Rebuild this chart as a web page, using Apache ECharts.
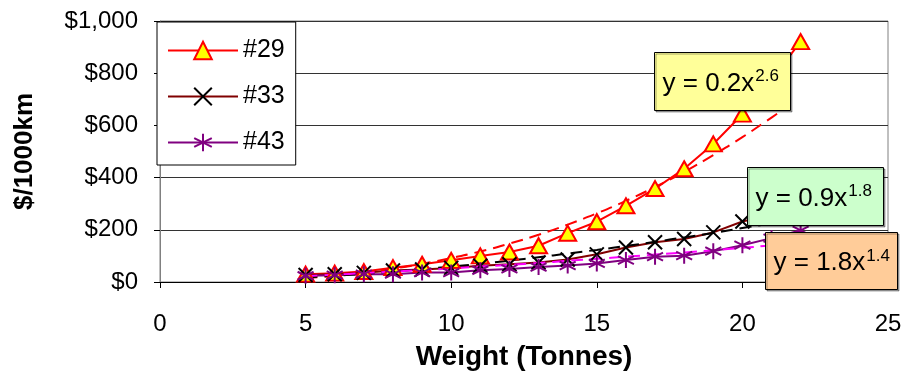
<!DOCTYPE html>
<html>
<head>
<meta charset="utf-8">
<script src="https://cdn.jsdelivr.net/npm/echarts@6/dist/echarts.min.js"></script>
<style>
html,body{margin:0;padding:0;background:#fff;}
#chart{width:912px;height:377px;}
</style>
</head>
<body>
<div id="chart"></div>
<script>
// ---- data ----
var weights = [5, 6, 7, 8, 9, 10, 11, 12, 13, 14, 15, 16, 17, 18, 19, 20, 21, 22];
var cost29 = [30, 34, 40, 55, 68, 83, 100, 115, 139, 187, 231, 292, 358, 434, 529, 643, 775, 921];
var cost33 = [27, 30, 35, 44, 48, 54, 62, 68, 75, 86, 106, 132, 152, 165, 190, 232, 258, 290];
var cost43 = [24, 26, 30, 30, 36, 36, 45, 50, 57, 63, 71, 84, 97, 101, 118, 141, 168, 198];

// trendlines (dashed), values
var trendX29 = [5, 6, 7, 8, 9, 10, 11, 12, 13, 14, 15, 16, 17, 18, 19, 20, 21, 21.5];
var trend29 = [15, 24, 36, 51, 70, 92, 117, 147, 181, 220, 263, 311, 364, 422, 486, 555, 630, 668];
var trendX = [5, 6, 7, 8, 9, 10, 11, 12, 13, 14, 15, 16, 17, 18, 19, 20, 21, 22];
var trend33 = [17, 24, 31, 40, 49, 59, 70, 82, 95, 109, 123, 138, 154, 171, 188, 207, 225, 245];
var trend43 = [22, 28, 34, 40, 46, 52, 59, 66, 73, 81, 89, 97, 105, 113, 122, 131, 140, 149];

var seriesNames = ['#29', '#33', '#43'];
var equations = [['y = 0.2x', '2.6'], ['y = 0.9x', '1.8'], ['y = 1.8x', '1.4']];

var xTicks = {min: 0, max: 25, interval: 5};
var yTicks = {min: 0, max: 1000, interval: 200};

function pairs(xs, ys) { return xs.map(function (x, i) { return [x, ys[i]]; }); }

var FONT = '"Liberation Sans", Arial, sans-serif';

var starPath = 'path://M5,0L5,10M0.7,2.5L9.3,7.5M9.3,2.5L0.7,7.5';
var crossPath = 'path://M0,0L10,10M10,0L0,10';

var chart = echarts.init(document.getElementById('chart'), null, {renderer: 'canvas'});

function eqBox(left, top, w, h, fill, eq) {
  return {
    type: 'group', left: left, top: top, z: 100,
    children: [
      {type: 'rect', shape: {x: 0, y: 0, width: w, height: h}, z: 100,
       style: {fill: fill, stroke: '#000', lineWidth: 1,
               shadowColor: 'rgba(0,0,0,0.35)', shadowOffsetX: 1.5, shadowOffsetY: 1.5, shadowBlur: 0}},
      {type: 'text', x: 8, y: h / 2 + 2, z: 101,
       style: {text: eq[0] + '{sup|' + eq[1] + '}', fill: '#000', font: '26px ' + FONT,
               verticalAlign: 'middle', align: 'left',
               rich: {sup: {fontSize: 17, fontFamily: FONT, verticalAlign: 'top', padding: [0, 0, 14, 1]}}}}
    ]
  };
}

var option = {
  backgroundColor: '#fff',
  animation: false,
  textStyle: {fontFamily: FONT},
  grid: {left: 160, right: 24, top: 21, bottom: 95, show: true, borderColor: '#808080', borderWidth: 1, backgroundColor: '#fff'},
  legend: {
    data: seriesNames,
    orient: 'vertical',
    left: 157, top: 22,
    padding: [16, 11, 10, 10],
    itemGap: 21,
    itemWidth: 70, itemHeight: 22,
    backgroundColor: '#fff',
    borderColor: '#000', borderWidth: 1,
    textStyle: {fontSize: 25, color: '#000', fontFamily: FONT}
  },
  xAxis: {
    type: 'value', min: xTicks.min, max: xTicks.max, interval: xTicks.interval,
    name: 'Weight (Tonnes)', nameLocation: 'middle', nameGap: 61,
    nameTextStyle: {fontSize: 28, fontWeight: 'bold', color: '#000', fontFamily: FONT},
    axisLine: {lineStyle: {color: '#000', width: 1}},
    axisTick: {show: true, inside: false, length: 6, lineStyle: {color: '#000'}},
    axisLabel: {fontSize: 24, color: '#000', margin: 30, fontFamily: FONT},
    splitLine: {show: false}
  },
  yAxis: {
    type: 'value', min: yTicks.min, max: yTicks.max, interval: yTicks.interval,
    name: '$/1000km', nameLocation: 'middle', nameGap: 122, nameRotate: 90,
    nameTextStyle: {fontSize: 26, fontWeight: 'bold', color: '#000', fontFamily: FONT},
    axisLine: {show: true, lineStyle: {color: '#808080', width: 1}},
    axisTick: {show: true, inside: false, length: 6, lineStyle: {color: '#000'}},
    axisLabel: {fontSize: 24, color: '#000', margin: 22, fontFamily: FONT,
                formatter: function (v) { return '$' + v.toLocaleString('en-US'); }},
    splitLine: {show: true, lineStyle: {color: '#333', width: 1}}
  },
  series: [
    {name: seriesNames[0], type: 'line', data: pairs(weights, cost29),
     symbol: 'triangle', symbolSize: [17, 15],
     lineStyle: {color: '#FF0000', width: 2},
     itemStyle: {color: '#FFFF00', borderColor: '#FF0000', borderWidth: 2}},
    {name: seriesNames[1], type: 'line', data: pairs(weights, cost33),
     symbol: crossPath, symbolSize: 14,
     lineStyle: {color: '#800000', width: 2},
     itemStyle: {color: '#000', borderColor: '#000', borderWidth: 2}},
    {name: seriesNames[2], type: 'line', data: pairs(weights, cost43),
     symbol: starPath, symbolSize: 16,
     lineStyle: {color: '#800080', width: 2},
     itemStyle: {color: '#800080', borderColor: '#800080', borderWidth: 2}},
    {name: 'trend29', type: 'line', data: pairs(trendX29, trend29), symbol: 'none', smooth: true,
     lineStyle: {color: '#FF0000', width: 2, type: [12, 7]}},
    {name: 'trend33', type: 'line', data: pairs(trendX, trend33), symbol: 'none', smooth: true,
     lineStyle: {color: '#000', width: 2, type: [12, 7]}},
    {name: 'trend43', type: 'line', data: pairs(trendX, trend43), symbol: 'none', smooth: true,
     lineStyle: {color: '#FF00FF', width: 2, type: [12, 7]}}
  ],
  graphic: [
    eqBox(654, 52, 136, 58, '#FFFF99', equations[0]),
    eqBox(747, 167, 136, 58, '#CCFFCC', equations[1]),
    eqBox(765, 232, 132, 57, '#FFCC99', equations[2])
  ]
};
chart.setOption(option);
</script>
</body>
</html>
